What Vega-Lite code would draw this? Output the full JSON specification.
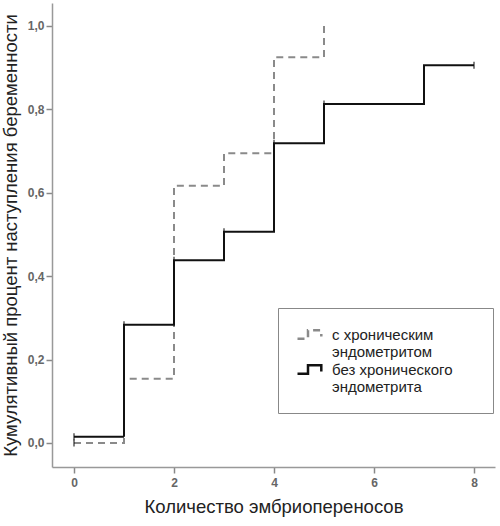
{
  "$schema": "https://vega.github.io/schema/vega-lite/v6.json",
  "width": 443,
  "height": 464,
  "autosize": {"type": "none"},
  "padding": {"left": 52, "top": 3, "right": 5, "bottom": 59},
  "background": "white",
  "config": {
    "view": {"stroke": null},
    "font": "Liberation Sans",
    "axis": {
      "grid": false,
      "domainColor": "#999999",
      "domainWidth": 1.5,
      "tickColor": "#888888",
      "tickWidth": 1.5,
      "tickSize": 6,
      "labelFont": "Liberation Sans",
      "labelFontSize": 12,
      "labelFontWeight": "bold",
      "labelColor": "#666666",
      "titleFont": "Liberation Sans",
      "titleFontWeight": "normal",
      "titleColor": "#222222",
      "titleFontSize": 18.5
    }
  },
  "datasets": {
    "curves": [
      {"group": "с хроническим эндометритом", "x": 0, "y": 0.0},
      {"group": "с хроническим эндометритом", "x": 1, "y": 0.154},
      {"group": "с хроническим эндометритом", "x": 2, "y": 0.616},
      {"group": "с хроническим эндометритом", "x": 3, "y": 0.694},
      {"group": "с хроническим эндометритом", "x": 4, "y": 0.924},
      {"group": "с хроническим эндометритом", "x": 5, "y": 1.0},
      {"group": "без хронического эндометрита", "x": 0, "y": 0.015},
      {"group": "без хронического эндометрита", "x": 1, "y": 0.283},
      {"group": "без хронического эндометрита", "x": 2, "y": 0.438},
      {"group": "без хронического эндометрита", "x": 3, "y": 0.506},
      {"group": "без хронического эндометрита", "x": 4, "y": 0.718},
      {"group": "без хронического эндометрита", "x": 5, "y": 0.812},
      {"group": "без хронического эндометрита", "x": 7, "y": 0.905},
      {"group": "без хронического эндометрита", "x": 8, "y": 0.905}
    ],
    "censored": [
      {"group": "с хроническим эндометритом", "x": 0, "y": 0.0},
      {"group": "без хронического эндометрита", "x": 0, "y": 0.015},
      {"group": "без хронического эндометрита", "x": 1, "y": 0.283},
      {"group": "без хронического эндометрита", "x": 2, "y": 0.438},
      {"group": "без хронического эндометрита", "x": 3, "y": 0.506},
      {"group": "без хронического эндометрита", "x": 4, "y": 0.718},
      {"group": "без хронического эндометрита", "x": 5, "y": 0.812},
      {"group": "без хронического эндометрита", "x": 8, "y": 0.905}
    ]
  },
  "layer": [
    {
      "data": {"name": "curves"},
      "mark": {"type": "line", "interpolate": "step-after", "strokeWidth": 2},
      "encoding": {
        "x": {
          "field": "x", "type": "quantitative",
          "scale": {"domain": [-0.44, 8.42], "nice": false, "zero": false},
          "axis": {"values": [0, 2, 4, 6, 8], "format": "d", "title": "Количество эмбриопереносов", "titlePadding": 9, "labelPadding": 4}
        },
        "y": {
          "field": "y", "type": "quantitative",
          "scale": {"domain": [-0.0575, 1.054], "nice": false, "zero": false},
          "axis": {"values": [0, 0.2, 0.4, 0.6, 0.8, 1.0], "labelExpr": "replace(format(datum.value, '.1f'), '.', ',')", "title": "Кумулятивный процент наступления беременности", "titlePadding": 7, "labelPadding": 2}
        },
        "color": {
          "field": "group", "type": "nominal",
          "scale": {"domain": ["с хроническим эндометритом", "без хронического эндометрита"], "range": ["#8a8a8a", "#111111"]},
          "legend": {
            "orient": "none",
            "legendX": 226,
            "legendY": 305,
            "title": null,
            "strokeColor": "#888888",
            "padding": 18,
            "fillColor": "white",
            "symbolType": "M-1,0.6L0.5,0.6L0.5,-0.6L2.4,-0.6L2.4,0.3",
            "symbolSize": 196,
            "symbolStrokeWidth": 2.5,
            "symbolFillColor": "transparent",
            "labelFont": "Liberation Sans",
            "labelFontSize": 15,
            "labelColor": "#222222",
            "labelLineHeight": 16.5,
            "labelOffset": 19,
            "labelLimit": 300,
            "rowPadding": 0,
            "labelExpr": "datum.label == 'с хроническим эндометритом' ? ['с хроническим', 'эндометритом'] : ['без хронического\u2800\u2800', 'эндометрита']"
          }
        },
        "strokeDash": {
          "field": "group", "type": "nominal",
          "scale": {"domain": ["с хроническим эндометритом", "без хронического эндометрита"], "range": [[7, 5], [1, 0]]},
          "legend": null
        }
      }
    },
    {
      "data": {"name": "censored"},
      "mark": {"type": "tick", "orient": "vertical", "size": 7, "thickness": 1.5, "color": "#111111"},
      "encoding": {
        "x": {"field": "x", "type": "quantitative"},
        "y": {"field": "y", "type": "quantitative"}
      }
    }
  ]
}
